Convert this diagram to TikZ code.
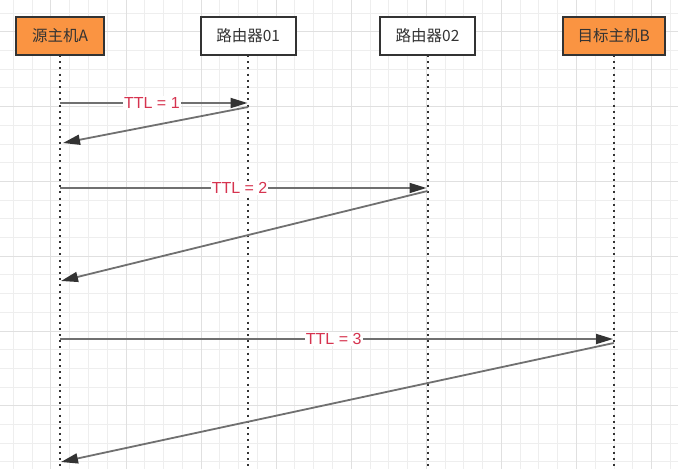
\documentclass[tikz,border=0pt]{standalone}
\usepackage{fontspec}
\setmainfont{Liberation Sans}
\newfontfamily\cjkfont{Noto Sans CJK SC}
\usetikzlibrary{arrows.meta}
\definecolor{boxorange}{HTML}{FA9442}
\definecolor{boxline}{HTML}{333333}
\definecolor{msgline}{HTML}{707070}
\definecolor{ttlred}{HTML}{D6334F}
\definecolor{gridminor}{HTML}{EEEEEE}
\definecolor{gridmajor}{HTML}{E0E0E0}
\begin{document}
\begin{tikzpicture}[x=1pt,y=-1pt,
  head/.style={draw=boxline, line width=2pt, inner sep=0pt, minimum height=38pt,
    text=boxline, font=\cjkfont\fontsize{15.5}{18}\selectfont},
  lifeline/.style={draw=boxline, line width=2pt, dash pattern=on 2pt off 4.2pt},
  msg/.style={draw=msgline, line width=1.8pt,
    -{Triangle[length=17pt,width=10pt,color=boxline]}},
  ttl/.style={fill=white, text=ttlred, inner sep=1pt,
    font=\fontsize{16}{19}\selectfont}]
\useasboundingbox (0,0) rectangle (678,469);
\fill[white] (0,0) rectangle (678,469);
% grid
\foreach \k in {0,...,35}
  \draw[gridminor, line width=0.8pt] ({13.3+18.77*\k},0) -- ({13.3+18.77*\k},469);
\foreach \k in {0,...,24}
  \draw[gridminor, line width=0.8pt] (0,{13+18.7*\k}) -- (678,{13+18.7*\k});
\foreach \k in {2,6,...,34}
  \draw[gridmajor, line width=0.8pt] ({13.3+18.77*\k},0) -- ({13.3+18.77*\k},469);
\foreach \k in {1,5,...,21}
  \draw[gridmajor, line width=0.8pt] (0,{13+18.7*\k}) -- (678,{13+18.7*\k});
% lifeline ends
\coordinate (Ae) at (60,469);
\coordinate (R1e) at (248.2,469);
\coordinate (R2e) at (427.5,469);
\coordinate (Be) at (613.8,469);
\coordinate (As) at (60,55);
\coordinate (R1s) at (248.2,55);
\coordinate (R2s) at (427.5,55);
\coordinate (Bs) at (613.8,55);
\draw[lifeline] (As) -- (Ae);
\draw[lifeline] (R1s) -- (R1e);
\draw[lifeline] (R2s) -- (R2e);
\draw[lifeline] (Bs) -- (Be);
% heads
\node[head, fill=boxorange, minimum width=88pt] (A) at (60,36) {源主机A};
\node[head, fill=white, minimum width=95pt] (R1) at (248.2,36) {路由器01};
\node[head, fill=white, minimum width=95pt] (R2) at (427.5,36) {路由器02};
\node[head, fill=boxorange, minimum width=102pt] (B) at (613.8,36) {目标主机B};
% message points
\coordinate (a1) at (60,103);   \coordinate (r1in) at (247.5,103);
\coordinate (r1out) at (248.2,107); \coordinate (a1back) at (63,143);
\coordinate (a2) at (60,188);   \coordinate (r2in) at (426.5,188);
\coordinate (r2out) at (427.5,191); \coordinate (a2back) at (61,281);
\coordinate (a3) at (60,339);   \coordinate (bin) at (613,339);
\coordinate (bout) at (613.8,343); \coordinate (a3back) at (61,462);
% messages
\draw[msg] (a1) -- node[ttl, pos=0.49] {TTL = 1} (r1in);
\draw[msg] (r1out) -- (a1back);
\draw[msg] (a2) -- node[ttl, pos=0.49] {TTL = 2} (r2in);
\draw[msg] (r2out) -- (a2back);
\draw[msg] (a3) -- node[ttl, pos=0.495] {TTL = 3} (bin);
\draw[msg] (bout) -- (a3back);
\end{tikzpicture}
\end{document}
